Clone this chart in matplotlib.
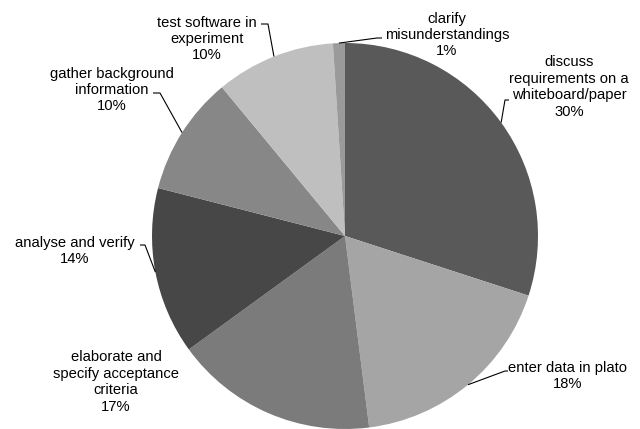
import matplotlib
matplotlib.use("Agg")
import matplotlib.pyplot as plt
import numpy as np

labels = ["discuss\nrequirements on a\nwhiteboard/paper", "enter data in plato",
          "elaborate and\nspecify acceptance\ncriteria", "analyse and verify",
          "gather background\ninformation", "test software in\nexperiment",
          "clarify\nmisunderstandings"]
values = [30, 18, 17, 14, 10, 10, 1]
colors = ["#595959", "#a5a5a5", "#7b7b7b", "#474747", "#878787", "#bfbfbf", "#9a9a9a"]

# label layout (image pixel coords, y downwards)
text_pos = [(569, 87), (568, 376), (116, 382), (75, 251), (112, 90), (207, 39), (447, 35)]
elbow = [((505, 100), (509, 100)), ((505, 371), (508, 371)), None,
         ((145, 245), (140, 245)), ((160, 93), (153, 93)), ((268, 24), (261, 24)),
         ((377, 38), (382, 38))]

W, H = 640, 429
fig = plt.figure(figsize=(6.4, 4.29), dpi=100)
ax = fig.add_axes([0, 0, 1, 1])

cx, cy, r = 345, 236, 193
wedges, _ = ax.pie(values, colors=colors, startangle=90, counterclock=False,
                   center=(cx, H - cy), radius=r, frame=True,
                   wedgeprops=dict(linewidth=0))
ax.set_xlim(0, W)
ax.set_ylim(0, H)
ax.set_aspect("equal")
ax.axis("off")

for i, (w, lab, v) in enumerate(zip(wedges, labels, values)):
    tx, ty = text_pos[i]
    ax.text(tx, H - ty, f"{lab}\n{v}%", ha="center", va="center",
            fontsize=10.6, family="Liberation Sans", color="#000000",
            linespacing=1.22)
    if elbow[i] is not None:
        ang = np.deg2rad((w.theta1 + w.theta2) / 2)
        ex = cx + r * np.cos(ang)
        ey = (H - cy) + r * np.sin(ang)
        (bx, by), (kx, ky) = elbow[i]
        ax.plot([ex, bx, kx], [ey, H - by, H - ky], color="#000000", lw=0.8,
                solid_capstyle="butt")

fig.savefig("out.png", dpi=100, facecolor="white")
